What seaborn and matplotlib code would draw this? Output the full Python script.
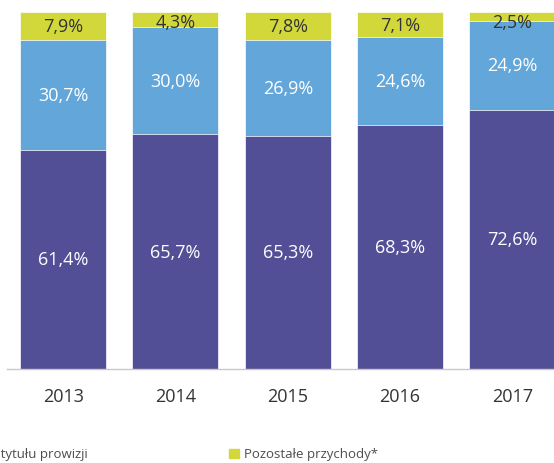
import numpy as np
import pandas as pd
import matplotlib.pyplot as plt
import seaborn as sns
from matplotlib.patches import Rectangle

years = ["2013", "2014", "2015", "2016", "2017"]
odsetki = [61.4, 65.7, 65.3, 68.3, 72.6]
prowizje = [30.7, 30.0, 26.9, 24.6, 24.9]
pozostale = [7.9, 4.3, 7.8, 7.1, 2.5]
legend_labels = ["Przychody z tytułu prowizji", "Pozostałe przychody*"]

PURPLE = "#524f97"
BLUE = "#62a6da"
LIME = "#d2d83a"
DARK = "#333333"

def fmt(v):
    return f"{v:.1f}%".replace(".", ",")

df = pd.DataFrame({"rok": years, "odsetki": odsetki, "prowizje": prowizje, "pozostale": pozostale})
df["do_prowizji"] = df["odsetki"] + df["prowizje"]
df["razem"] = df["do_prowizji"] + df["pozostale"]

sns.set_style("white")
plt.rcParams["font.family"] = ["Open Sans", "DejaVu Sans"]

fig = plt.figure(figsize=(5.54, 4.64), dpi=100)
ax = fig.add_axes([7 / 554, 94 / 464, 547 / 554, 357 / 464])

# stacked bars drawn as overlapping cumulative bars
w = 0.766
for col, c in [("razem", LIME), ("do_prowizji", BLUE), ("odsetki", PURPLE)]:
    sns.barplot(data=df, x="rok", y=col, color=c, saturation=1, width=w,
                edgecolor="white", linewidth=0.5, ax=ax)

for i in range(len(years)):
    ax.text(i, odsetki[i] / 2, fmt(odsetki[i]), ha="center", va="center",
            color="white", fontsize=13)
    ax.text(i, odsetki[i] + prowizje[i] / 2, fmt(prowizje[i]), ha="center", va="center",
            color="white", fontsize=13)
    y_top = df["razem"][i] - max(pozostale[i] / 2, 2.8)
    ax.text(i, y_top, fmt(pozostale[i]), ha="center", va="center",
            color=DARK, fontsize=13)

ax.set_xlim(-0.5, 4.37)
ax.set_ylim(0, 100)
ax.set_xlabel("")
ax.set_ylabel("")
ax.set_yticks([])
for s in ["top", "right", "left"]:
    ax.spines[s].set_visible(False)
ax.spines["bottom"].set_color("#c8c8c8")
ax.spines["bottom"].set_linewidth(1)
ax.tick_params(axis="x", length=0, pad=13, labelsize=13, labelcolor=DARK)

# legend (cut off at the edges like the original)
fig.text(88 / 554, 1 - 455 / 464, legend_labels[0], ha="right", va="center",
         fontsize=9.5, color="#4d4d4d")
fig.patches.append(Rectangle((229 / 554, 1 - 459 / 464), 10 / 554, 9 / 464,
                             transform=fig.transFigure, color=LIME, figure=fig))
fig.text(244 / 554, 1 - 455 / 464, legend_labels[1], ha="left", va="center",
         fontsize=9.5, color="#4d4d4d")

fig.savefig("out.png", dpi=100)
